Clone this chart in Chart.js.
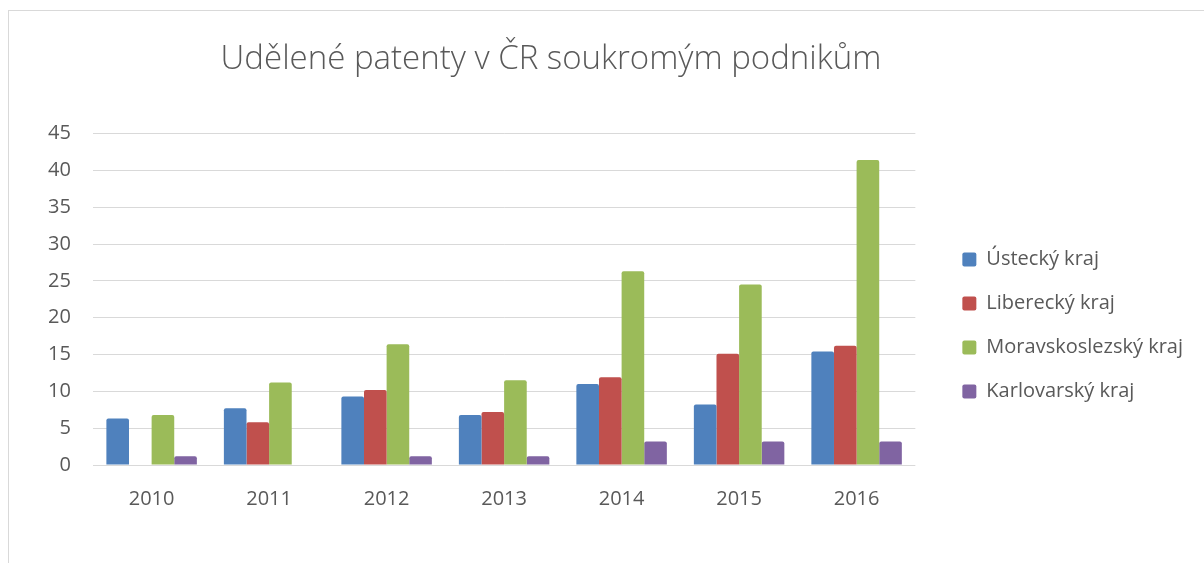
<!DOCTYPE html>
<html>
<head>
<meta charset="utf-8">
<script src="https://cdn.jsdelivr.net/npm/chart.js@4.4.1/dist/chart.umd.min.js"></script>
<style>
  html, body { margin: 0; padding: 0; background: #ffffff; }
  #wrap { position: relative; width: 1204px; height: 563px; }
</style>
</head>
<body>
<div id="wrap"><canvas id="c" width="1204" height="563"></canvas></div>
<script>
const years = ['2010', '2011', '2012', '2013', '2014', '2015', '2016'];
const seriesNames = ['Ústecký kraj', 'Liberecký kraj', 'Moravskoslezský kraj', 'Karlovarský kraj'];
const ustecky = [6.3, 7.7, 9.3, 6.8, 11.0, 8.2, 15.4];
const liberecky = [0, 5.8, 10.2, 7.2, 11.9, 15.1, 16.2];
const moravskoslezsky = [6.8, 11.2, 16.4, 11.5, 26.3, 24.5, 41.4];
const karlovarsky = [1.2, 0, 1.2, 1.2, 3.2, 3.2, 3.2];
const yTickValues = [0, 5, 10, 15, 20, 25, 30, 35, 40, 45];
const colors = ['#4f81bd', '#c0504d', '#9bbb59', '#8064a2'];
const titleText = 'Udělené patenty v ČR soukromým podnikům';

const allSeries = [ustecky, liberecky, moravskoslezsky, karlovarsky];

const frame = {
  id: 'frame',
  beforeDraw(chart) {
    const ctx = chart.ctx;
    ctx.save();
    ctx.strokeStyle = '#d9d9d9';
    ctx.lineWidth = 1;
    ctx.strokeRect(8.5, 10.5, 1400, 800);
    ctx.restore();
  },
  afterLayout(chart) {
    // centre the title where the original places it
    if (chart.titleBlock) {
      chart.titleBlock.left = 0;
      chart.titleBlock.right = 1102;
    }
  }
};

new Chart(document.getElementById('c'), {
  type: 'bar',
  data: {
    labels: years,
    datasets: allSeries.map((d, i) => ({
      label: seriesNames[i],
      data: d,
      backgroundColor: colors[i],
      borderWidth: 0,
      borderRadius: 2,
      borderSkipped: 'bottom',
      categoryPercentage: 0.77,
      barPercentage: 1.0
    }))
  },
  options: {
    responsive: false,
    animation: false,
    devicePixelRatio: 1,
    layout: { padding: { left: 26, right: 11, top: 40, bottom: 30 } },
    plugins: {
      title: {
        display: true,
        text: titleText,
        color: '#595959',
        font: { family: 'Open Sans', size: 33, weight: '300' },
        padding: { top: 0, bottom: 54 }
      },
      legend: {
        position: 'right',
        align: 'center',
        maxWidth: 300,
        title: { display: true, text: ' ', font: { size: 10 }, padding: { top: 31, bottom: 35 } },
        labels: {
          color: '#595959',
          font: { family: 'Open Sans', size: 20 },
          boxWidth: 14,
          boxHeight: 14,
          useBorderRadius: true,
          borderRadius: 2,
          padding: 24
        }
      },
      tooltip: { enabled: false }
    },
    scales: {
      x: {
        grid: { display: false, drawTicks: false },
        border: { display: false },
        ticks: { color: '#595959', font: { family: 'Open Sans', size: 20 }, padding: 22 }
      },
      y: {
        min: 0,
        max: 45,
        afterBuildTicks(axis) { axis.ticks = yTickValues.map(v => ({ value: v })); },
        grid: { color: '#d9d9d9', lineWidth: 1, drawTicks: false },
        border: { display: false },
        ticks: { color: '#595959', font: { family: 'Open Sans', size: 20 }, padding: 22 }
      },
      spacer: {
        type: 'linear',
        position: 'right',
        display: true,
        grid: { display: false, drawTicks: false },
        border: { display: false },
        ticks: { display: false },
        afterFit(scale) { scale.width = 23; }
      }
    }
  },
  plugins: [frame]
});
</script>
</body>
</html>
